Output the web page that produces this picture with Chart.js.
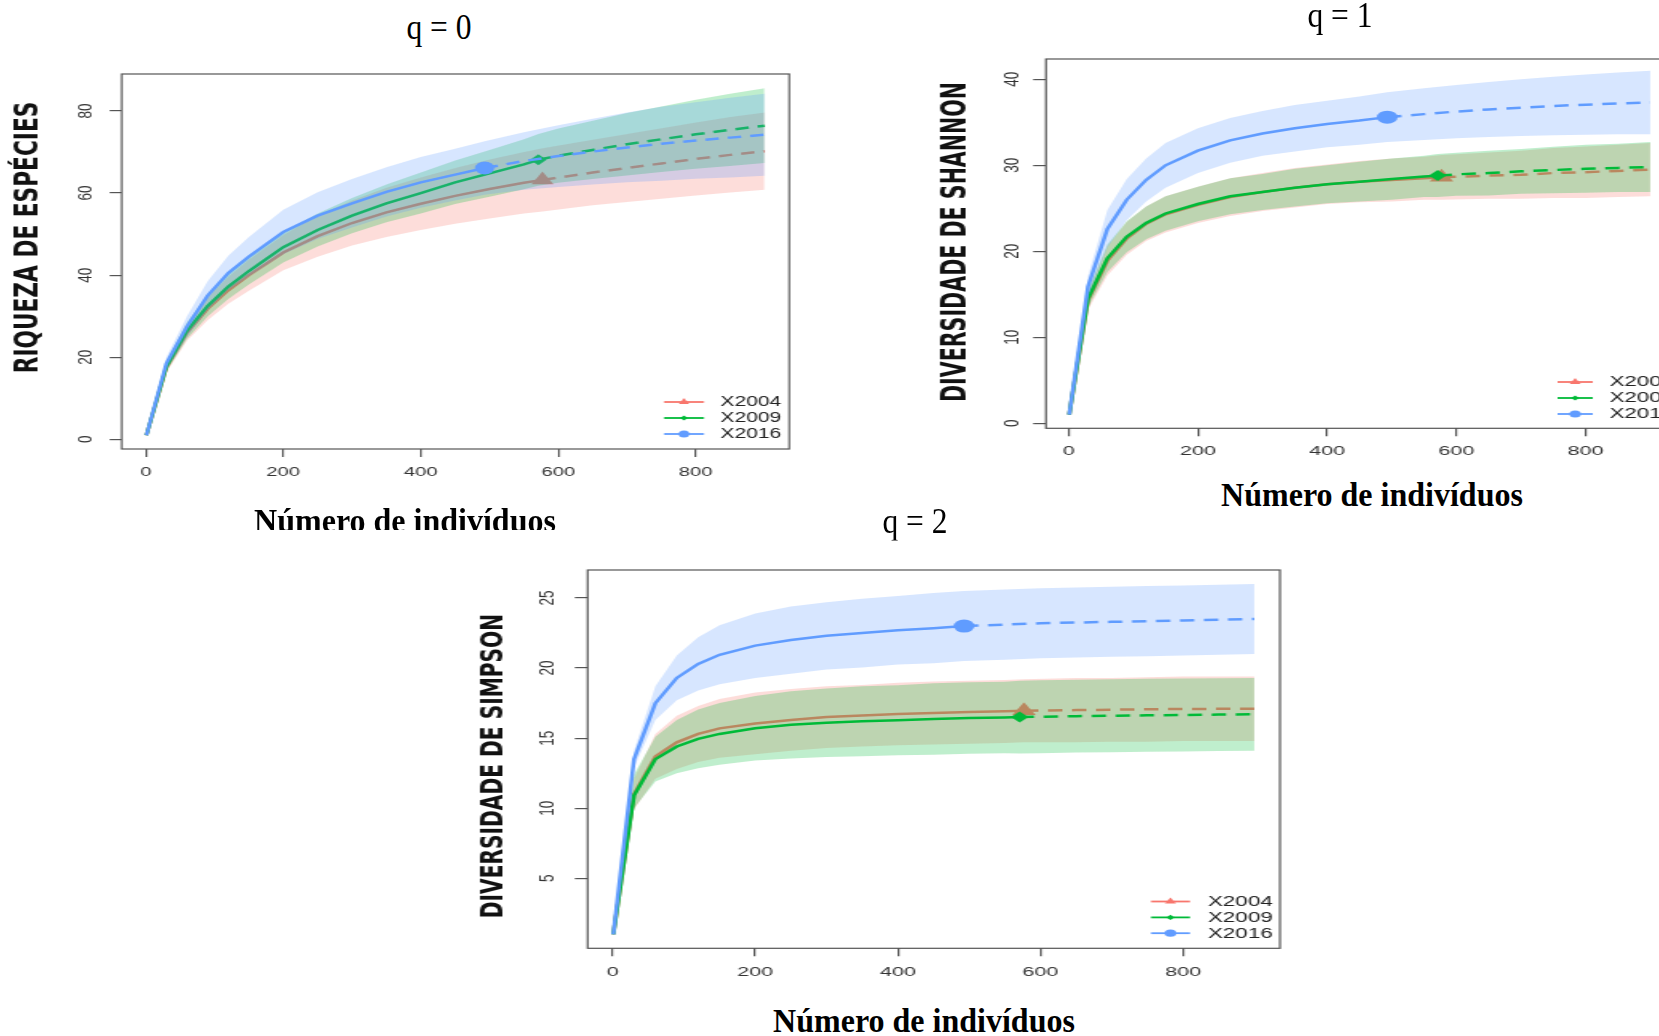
<!DOCTYPE html>
<html>
<head>
<meta charset="utf-8">
<script src="https://cdn.jsdelivr.net/npm/chart.js@4.4.1/dist/chart.umd.min.js"></script>
<style>
html,body{margin:0;padding:0;width:1659px;height:1036px;overflow:hidden;background:#fff;}
canvas.panel{position:absolute;transform-origin:0 0;}
.lbl{position:absolute;white-space:nowrap;line-height:1;font-family:"Liberation Serif","Times New Roman",serif;color:#000;}
.qt{font-size:35px;}
.xt{font-size:33px;font-weight:bold;}
.clip{position:absolute;overflow:hidden;}
</style>
</head>
<body>
<canvas id="c0" class="panel" width="540" height="470" style="left:0px;top:60px;transform:scaleX(1.5);"></canvas>
<canvas id="c1" class="panel" width="500" height="470" style="left:900px;top:0px;transform:scaleX(1.6);"></canvas>
<canvas id="c2" class="panel" width="540" height="460" style="left:440px;top:540px;transform:scaleX(1.6);"></canvas>

<div class="lbl qt" style="left:439px;top:26.5px;transform:translate(-50%,-50%) scaleX(0.9);">q = 0</div>
<div class="lbl qt" style="left:1340px;top:15px;transform:translate(-50%,-50%) scaleX(0.9);">q = 1</div>
<div class="lbl qt" style="left:915px;top:520.5px;transform:translate(-50%,-50%) scaleX(0.9);">q = 2</div>
<div class="clip" style="left:200px;top:480px;width:420px;height:50px;">
  <div class="lbl xt" style="left:205px;top:41px;transform:translate(-50%,-50%) scaleX(0.97);">Número de indivíduos</div>
</div>
<div class="lbl xt" style="left:1372px;top:494.5px;transform:translate(-50%,-50%) scaleX(0.97);">Número de indivíduos</div>
<div class="lbl xt" style="left:923.7px;top:1021px;transform:translate(-50%,-50%) scaleX(0.97);">Número de indivíduos</div>

<script>
// ---------------- DATA ----------------
const seriesNames = ['X2004', 'X2009', 'X2016'];
const sampleSizes = [577, 571, 493];
const xTicks = [0, 200, 400, 600, 800];
const yTicksQ0 = [0, 20, 40, 60, 80];
const yTicksQ1 = [0, 10, 20, 30, 40];
const yTicksQ2 = [5, 10, 15, 20, 25];
const panelTitles = ['q = 0', 'q = 1', 'q = 2'];
const yTitles = ['RIQUEZA DE ESPÉCIES', 'DIVERSIDADE DE SHANNON', 'DIVERSIDADE DE SIMPSON'];

// sample sizes (m) at which each curve was read
const m2004 = [1,30,60,90,120,150,200,250,300,350,400,450,500,550,577,650,700,750,800,850,900];
const m2009 = [1,30,60,90,120,150,200,250,300,350,400,450,500,550,571,600,650,700,750,800,850,900];
const m2016 = [1,30,60,90,120,150,200,250,300,350,400,450,493,550,600,650,700,750,800,850,900];

// q = 0 (species richness)
const q0_2004    = [1,17.5,26,31.8,36.3,40,45.5,49.5,52.7,55.3,57.4,59.3,61,62.5,63.2,65,66.1,67.2,68.3,69.3,70.2];
const q0_2004_lo = [1,16.3,24,29,33,36.2,41.2,44.5,47.2,49.3,51,52.5,53.8,55,55.5,57,57.8,58.6,59.4,60.1,60.8];
const q0_2004_hi = [1,18.7,28,34.6,39.6,43.8,49.8,54.5,58.2,61.3,63.8,66.1,68.2,70,70.9,73,74.4,75.8,77.2,78.5,79.6];
const q0_2009    = [1,17.7,26.5,32.5,37.2,41,46.8,51,54.5,57.5,60,62.6,64.8,67,68.1,69.1,70.5,71.9,73.1,74.3,75.4,76.4];
const q0_2009_lo = [1,16.5,24.5,29.9,34.2,37.7,43.1,47,50.2,52.9,55,57.3,59.1,60.9,61.8,62.5,63.4,64.3,65.1,65.9,66.6,67.3];
const q0_2009_hi = [1,18.9,28.5,35.1,40.2,44.3,50.5,55,58.8,62.1,65,67.9,70.5,73.1,74.4,75.7,77.6,79.5,81.1,82.7,84.2,85.5];
const q0_2016    = [1,18.5,27.5,35,40.5,44.5,50.5,54.5,57.5,60.3,62.6,64.5,66.1,67.8,69,70.1,71.1,72,72.8,73.5,74.2];
const q0_2016_lo = [1,17,25,31.5,36.3,39.7,45.1,48.8,51.6,54.3,56.4,58.2,59.6,60.8,61.5,62.1,62.6,63,63.5,63.8,64.2];
const q0_2016_hi = [1,20,30,38.5,44.7,49.3,55.9,60.2,63.4,66.3,68.8,70.8,72.6,74.8,76.5,78.1,79.6,81,82.1,83.2,84.2];

// q = 1 (Shannon diversity)
const q1_2004    = [1,14.3,18.9,21.5,23.2,24.3,25.4,26.3,26.9,27.4,27.8,28.1,28.3,28.5,28.6,28.8,28.9,29.1,29.2,29.35,29.5];
const q1_2004_lo = [1,13.2,17.2,19.6,21.2,22.2,23.3,24.1,24.7,25.1,25.5,25.7,25.8,26,26,26.1,26.1,26.2,26.2,26.3,26.4];
const q1_2004_hi = [1,15.4,20.6,23.4,25.2,26.4,27.5,28.5,29.1,29.7,30.1,30.5,30.8,31,31.2,31.5,31.7,32,32.2,32.4,32.6];
const q1_2009    = [1,14.5,19.2,21.7,23.3,24.4,25.5,26.4,26.9,27.4,27.8,28.1,28.4,28.7,28.8,28.95,29.1,29.3,29.45,29.6,29.7,29.8];
const q1_2009_lo = [1,13.5,17.6,19.9,21.4,22.4,23.5,24.3,24.8,25.2,25.6,25.8,26,26.3,26.3,26.45,26.5,26.7,26.75,26.8,26.9,26.9];
const q1_2009_hi = [1,15.5,20.8,23.5,25.2,26.4,27.5,28.5,29,29.6,30,30.4,30.8,31.1,31.3,31.45,31.7,31.9,32.15,32.4,32.5,32.7];
const q1_2016    = [1,15.9,22.6,26,28.3,30,31.7,32.9,33.7,34.3,34.8,35.2,35.6,35.95,36.25,36.5,36.7,36.9,37.05,37.2,37.3];
const q1_2016_lo = [1,14.7,20.4,23.6,25.8,27.4,29.1,30.3,31.1,31.6,32.1,32.4,32.7,32.95,33.15,33.3,33.4,33.5,33.55,33.6,33.6];
const q1_2016_hi = [1,17.1,24.8,28.4,30.8,32.6,34.3,35.5,36.3,37,37.5,38,38.5,38.95,39.35,39.7,40,40.3,40.55,40.8,41];

// q = 2 (Simpson diversity)
const q2_2004    = [1,11,13.7,14.7,15.3,15.7,16.05,16.3,16.5,16.62,16.72,16.8,16.87,16.92,16.95,17,17.03,17.06,17.08,17.09,17.1];
const q2_2004_lo = [1,9.9,12.1,12.8,13.3,13.6,13.85,14.1,14.3,14.4,14.5,14.55,14.6,14.65,14.7,14.7,14.75,14.75,14.8,14.8,14.8];
const q2_2004_hi = [1,12.1,15.3,16.6,17.3,17.8,18.25,18.5,18.7,18.8,18.95,19.05,19.1,19.15,19.2,19.3,19.3,19.35,19.4,19.4,19.4];
const q2_2009    = [1,10.9,13.5,14.4,14.95,15.3,15.7,15.95,16.1,16.2,16.28,16.36,16.43,16.48,16.5,16.53,16.57,16.6,16.63,16.65,16.68,16.7];
const q2_2009_lo = [1,10,11.9,12.5,12.85,13.1,13.4,13.55,13.65,13.7,13.78,13.81,13.88,13.93,13.9,13.93,13.97,14,14.03,14.05,14.08,14.1];
const q2_2009_hi = [1,12.4,15.1,16.3,17.05,17.5,18,18.35,18.55,18.7,18.78,18.91,18.98,19.03,19.1,19.13,19.17,19.2,19.23,19.25,19.28,19.3];
const q2_2016    = [1,13.5,17.5,19.3,20.3,20.95,21.6,22,22.3,22.5,22.7,22.85,23,23.1,23.2,23.25,23.3,23.35,23.4,23.45,23.5];
const q2_2016_lo = [1,12.9,16.3,17.7,18.4,18.85,19.3,19.6,19.9,20.05,20.25,20.35,20.5,20.6,20.7,20.75,20.8,20.85,20.9,20.95,21];
const q2_2016_hi = [1,14.1,18.7,20.9,22.2,23.05,23.9,24.4,24.7,24.95,25.15,25.35,25.5,25.6,25.7,25.75,25.8,25.85,25.9,25.95,26];

// ---------------- STYLE ----------------
const colors = ['#F8766D', '#00BA38', '#619CFF'];
const bandColors = ['rgba(248,118,109,0.25)', 'rgba(0,186,56,0.25)', 'rgba(97,156,255,0.25)'];
const markerStyles = ['triangle', 'rectRot', 'circle'];
const markerRadius = [8.5, 5.5, 6.5];
Chart.defaults.font.family = '"Liberation Sans", Arial, sans-serif';
const TICK_FONT = '13.5px "Liberation Sans", Arial, sans-serif';
const LEGEND_FONT = '14px "Liberation Sans", Arial, sans-serif';

function pts(xs, ys) { return xs.map((x, i) => ({ x: x, y: ys[i] })); }

function buildDatasets(m, mids, los, his) {
  const ds = [];
  let order = 9;
  for (let i = 0; i < 3; i++) {
    const n = sampleSizes[i];
    ds.push({
      label: seriesNames[i], data: pts(m[i], mids[i]),
      borderColor: colors[i], backgroundColor: colors[i], borderWidth: 2.5,
      pointStyle: markerStyles[i], pointRadius: m[i].map(x => x === n ? markerRadius[i] : 0),
      pointBorderWidth: 0, pointBackgroundColor: colors[i], tension: 0, fill: false,
      segment: { borderDash: c => (c.p0.parsed.x >= n ? [9, 6] : undefined) },
      order: order--
    });
    ds.push({
      label: seriesNames[i] + ' lo', data: pts(m[i], los[i]),
      borderWidth: 0, borderColor: 'rgba(0,0,0,0)', pointRadius: 0, fill: false, tension: 0,
      order: order--
    });
    ds.push({
      label: seriesNames[i] + ' hi', data: pts(m[i], his[i]),
      borderWidth: 0, borderColor: 'rgba(0,0,0,0)', pointRadius: 0, tension: 0,
      fill: '-1', backgroundColor: bandColors[i],
      order: order--
    });
  }
  return ds;
}

function drawMarker(ctx, style, x, y, r) {
  ctx.beginPath();
  if (style === 'triangle') {
    ctx.moveTo(x, y - r);
    ctx.lineTo(x + r * 0.866, y + r * 0.5);
    ctx.lineTo(x - r * 0.866, y + r * 0.5);
  } else if (style === 'rectRot') {
    ctx.moveTo(x, y - r); ctx.lineTo(x + r, y); ctx.lineTo(x, y + r); ctx.lineTo(x - r, y);
  } else {
    ctx.arc(x, y, r, 0, Math.PI * 2);
  }
  ctx.closePath();
  ctx.fill();
}

const decoPlugin = {
  id: 'deco',
  afterDraw(chart, args, o) {
    const ctx = chart.ctx, a = chart.chartArea, ys = chart.scales.y;
    ctx.save();
    ctx.strokeStyle = '#555';
    ctx.lineWidth = 1.2;
    ctx.strokeRect(a.left, a.top, a.right - a.left, a.bottom - a.top);
    // rotated y tick labels
    ctx.fillStyle = '#333';
    ctx.font = TICK_FONT;
    ctx.textAlign = 'center';
    ctx.textBaseline = 'middle';
    ys.ticks.forEach(t => {
      const py = ys.getPixelForValue(t.value);
      ctx.save(); ctx.translate(o.yLabelX, py); ctx.rotate(-Math.PI / 2);
      ctx.fillText(String(t.value), 0, 0); ctx.restore();
    });
    // y axis title
    ctx.font = 'bold ' + o.titleSize + 'px "DejaVu Sans", Verdana, sans-serif';
    ctx.fillStyle = '#111';
    ctx.save(); ctx.translate(o.titleX, o.titleY); ctx.rotate(-Math.PI / 2);
    ctx.fillText(o.title, 0, 0); ctx.restore();
    // legend
    ctx.font = LEGEND_FONT;
    ctx.textAlign = 'left';
    const lg = o.legend;
    const smallR = [4, 2.6, 3.6];
    for (let i = 0; i < 3; i++) {
      const y = lg.rows[i];
      ctx.strokeStyle = colors[i]; ctx.fillStyle = colors[i]; ctx.lineWidth = 1.8;
      ctx.beginPath(); ctx.moveTo(lg.x1, y); ctx.lineTo(lg.x2, y); ctx.stroke();
      drawMarker(ctx, markerStyles[i], (lg.x1 + lg.x2) / 2, y, smallR[i]);
      ctx.fillStyle = '#222';
      ctx.fillText(seriesNames[i], lg.tx, y + 0.5);
    }
    ctx.restore();
  }
};

function makeChart(id, cfg) {
  const gridOpts = { display: true, drawOnChartArea: false, drawTicks: true, tickLength: 8, color: '#555', lineWidth: 1.2 };
  return new Chart(document.getElementById(id), {
    type: 'line',
    data: { datasets: cfg.datasets },
    plugins: [decoPlugin],
    options: {
      responsive: false, animation: false, events: [],
      layout: { padding: { left: 0, top: cfg.padTop, right: cfg.padRight, bottom: 0 } },
      plugins: {
        legend: { display: false }, tooltip: { enabled: false }, title: { display: false },
        filler: { drawTime: 'beforeDatasetDraw', propagate: false },
        deco: cfg.deco
      },
      scales: {
        x: {
          type: 'linear', min: -35, max: 936,
          afterBuildTicks: s => { s.ticks = xTicks.map(v => ({ value: v })); },
          afterFit: s => { s.height = cfg.xHeight; },
          border: { display: false }, grid: gridOpts,
          ticks: { color: '#333', font: { size: 13.5 }, padding: cfg.xPad, maxRotation: 0, autoSkip: false }
        },
        y: {
          type: 'linear', min: cfg.yMin, max: cfg.yMax,
          afterBuildTicks: s => { s.ticks = cfg.yTicks.map(v => ({ value: v })); },
          afterFit: s => { s.width = cfg.yWidth; },
          border: { display: false }, grid: gridOpts,
          ticks: { display: false }
        }
      }
    }
  });
}

const M = [m2004, m2009, m2016];

makeChart('c0', {
  datasets: buildDatasets(M, [q0_2004, q0_2009, q0_2016], [q0_2004_lo, q0_2009_lo, q0_2016_lo], [q0_2004_hi, q0_2009_hi, q0_2016_hi]),
  padTop: 14, padRight: 13.8, xHeight: 81, yWidth: 81.13, xPad: 7.6,
  yMin: -2.36, yMax: 89.0, yTicks: yTicksQ0,
  deco: { yLabelX: 57.1, titleX: 19.1, titleY: 177.5, title: yTitles[0], titleSize: 21.7,
          legend: { x1: 442.7, x2: 469.3, tx: 480.3, rows: [342, 358, 374] } }
});

makeChart('c1', {
  datasets: buildDatasets(M, [q1_2004, q1_2009, q1_2016], [q1_2004_lo, q1_2009_lo, q1_2016_lo], [q1_2004_hi, q1_2009_hi, q1_2016_hi]),
  padTop: 59, padRight: 16.5, xHeight: 41.7, yWidth: 91.25, xPad: 7.3,
  yMin: -0.58, yMax: 42.36, yTicks: yTicksQ1,
  deco: { yLabelX: 69.8, titleX: 36, titleY: 242, title: yTitles[1], titleSize: 20.6,
          legend: { x1: 411, x2: 433, tx: 443.4, rows: [382, 398, 414] } }
});

makeChart('c2', {
  datasets: buildDatasets(M, [q2_2004, q2_2009, q2_2016], [q2_2004_lo, q2_2009_lo, q2_2016_lo], [q2_2004_hi, q2_2009_hi, q2_2016_hi]),
  padTop: 30, padRight: 15, xHeight: 51.7, yWidth: 92.3, xPad: 8.3,
  yMin: 0, yMax: 27, yTicks: yTicksQ2,
  deco: { yLabelX: 67.5, titleX: 33.75, titleY: 226, title: yTitles[2], titleSize: 20.2,
          legend: { x1: 444.4, x2: 468.75, tx: 480, rows: [361.5, 377.4, 393.2] } }
});
</script>
</body>
</html>
